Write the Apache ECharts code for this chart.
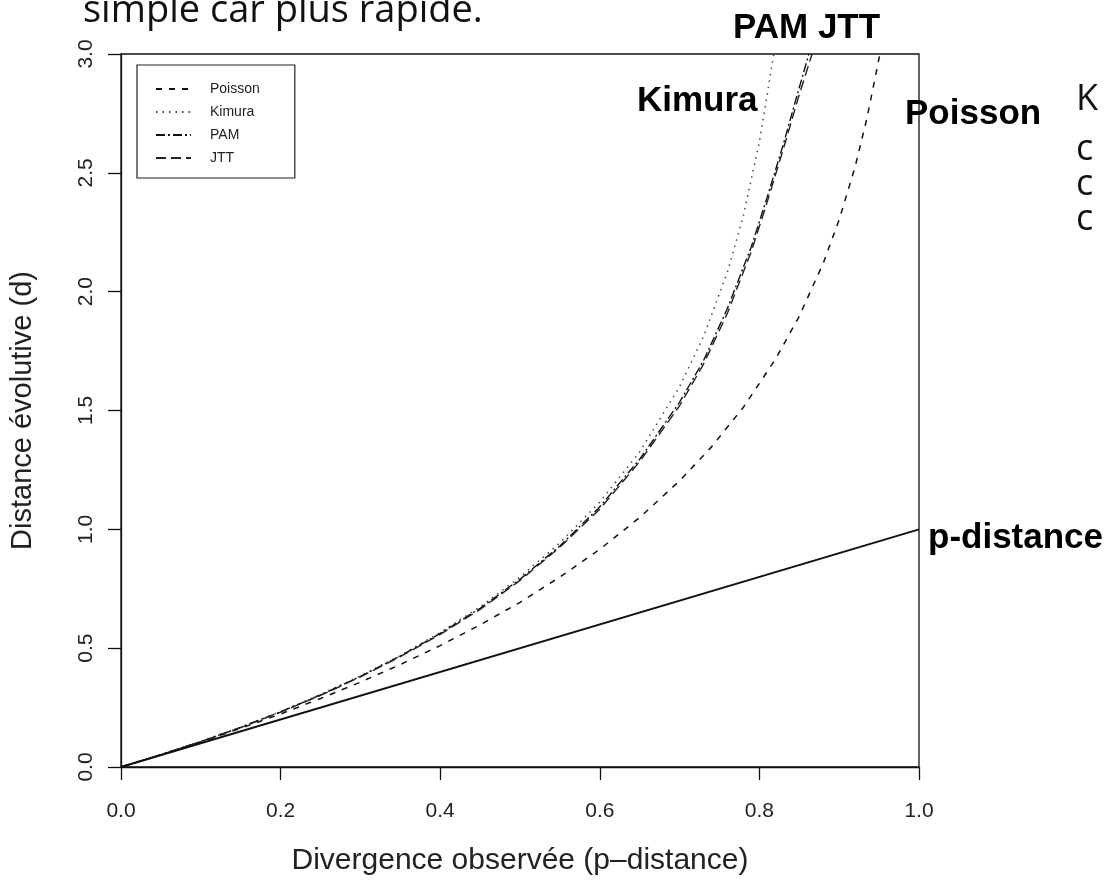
<!DOCTYPE html>
<html>
<head>
<meta charset="utf-8">
<script src="https://cdn.jsdelivr.net/npm/echarts@6/dist/echarts.min.js"></script>
<style>
  html, body { margin: 0; padding: 0; background: #fff; }
  #chart { width: 1117px; height: 881px; }
</style>
</head>
<body>
<div id="chart"></div>
<script>
var poissonP = [0, 0.05, 0.1, 0.15, 0.2, 0.25, 0.3, 0.35, 0.4, 0.45, 0.5, 0.55, 0.6, 0.65, 0.7, 0.74, 0.78, 0.82, 0.85, 0.88, 0.9, 0.92, 0.935, 0.945, 0.951];
var poissonD = [0, 0.051, 0.105, 0.163, 0.223, 0.288, 0.357, 0.431, 0.511, 0.598, 0.693, 0.799, 0.916, 1.05, 1.204, 1.347, 1.514, 1.715, 1.897, 2.12, 2.303, 2.526, 2.733, 2.9, 3.0];

var kimuraP = [0, 0.05, 0.1, 0.15, 0.2, 0.25, 0.3, 0.35, 0.4, 0.45, 0.5, 0.55, 0.6, 0.65, 0.7, 0.73, 0.76, 0.78, 0.8, 0.81, 0.818];
var kimuraD = [0, 0.052, 0.108, 0.168, 0.233, 0.305, 0.383, 0.469, 0.566, 0.674, 0.799, 0.943, 1.115, 1.326, 1.6, 1.811, 2.083, 2.32, 2.631, 2.834, 3.0];

var pamP = [0, 0.05, 0.1, 0.15, 0.2, 0.25, 0.3, 0.35, 0.4, 0.45, 0.5, 0.55, 0.6, 0.65, 0.7, 0.73, 0.76, 0.79, 0.81, 0.83, 0.845, 0.862];
var pamD = [0, 0.052, 0.107, 0.167, 0.232, 0.303, 0.381, 0.467, 0.562, 0.668, 0.79, 0.93, 1.095, 1.295, 1.535, 1.71, 1.93, 2.19, 2.4, 2.62, 2.8, 3.0];

var jttP = [0, 0.05, 0.1, 0.15, 0.2, 0.25, 0.3, 0.35, 0.4, 0.45, 0.5, 0.55, 0.6, 0.65, 0.7, 0.73, 0.76, 0.79, 0.81, 0.83, 0.85, 0.866];
var jttD = [0, 0.052, 0.106, 0.166, 0.231, 0.301, 0.379, 0.464, 0.558, 0.663, 0.785, 0.925, 1.085, 1.285, 1.52, 1.695, 1.91, 2.17, 2.38, 2.6, 2.83, 3.0];

var pdistP = [0, 1];
var pdistD = [0, 1];

var legendNames = ['Poisson', 'Kimura', 'PAM', 'JTT'];

function pairs(xs, ys) {
  return xs.map(function (x, i) { return [x, ys[i]]; });
}

var font = '"Liberation Sans", Arial, Helvetica, sans-serif';
var slideFont = '"Open Sans", "Noto Sans", sans-serif';

function curve(name, xs, ys, type, width, color) {
  return {
    name: name,
    type: 'line',
    data: pairs(xs, ys),
    symbol: 'none',
    showSymbol: false,
    smooth: false,
    silent: true,
    itemStyle: { color: color },
    lineStyle: { color: color, width: width, type: type }
  };
}

var chart = echarts.init(document.getElementById('chart'));

var option = {
  backgroundColor: '#fff',
  animation: false,
  grid: {
    left: 120, right: 198, top: 54, bottom: 113,
    show: true, borderColor: '#111', borderWidth: 1.3
  },
  legend: {
    data: legendNames,
    orient: 'vertical',
    left: 137, top: 65,
    itemWidth: 35, itemHeight: 14, itemGap: 9,
    padding: [17, 35, 13, 18],
    borderColor: '#222', borderWidth: 1.2,
    itemStyle: { opacity: 0 },
    textStyle: { fontFamily: font, fontSize: 14, color: '#222', padding: [0, 0, 0, 14] }
  },
  xAxis: {
    type: 'value', min: 0, max: 1, interval: 0.2,
    name: 'Divergence observée (p\u2013distance)',
    nameLocation: 'middle', nameGap: 79,
    nameTextStyle: { fontFamily: font, fontSize: 30, color: '#222' },
    axisLine: { lineStyle: { color: '#111', width: 1.3 } },
    axisTick: { length: 13, lineStyle: { color: '#111', width: 1.3 } },
    axisLabel: {
      margin: 34, fontFamily: font, fontSize: 21, color: '#222',
      formatter: function (v) { return v.toFixed(1); }
    },
    splitLine: { show: false }
  },
  yAxis: {
    type: 'value', min: 0, max: 3, interval: 0.5,
    name: 'Distance évolutive (d)',
    nameLocation: 'middle', nameGap: 84, nameRotate: 90,
    nameTextStyle: { fontFamily: font, fontSize: 29, color: '#222' },
    axisLine: { lineStyle: { color: '#111', width: 1.3 } },
    axisTick: { length: 13, lineStyle: { color: '#111', width: 1.3 } },
    axisLabel: {
      rotate: 90, margin: 24, fontFamily: font, fontSize: 21, color: '#222',
      formatter: function (v) { return v.toFixed(1); }
    },
    splitLine: { show: false }
  },
  series: [
    curve('Poisson', poissonP, poissonD, [6, 7], 1.5, '#111'),
    curve('Kimura', kimuraP, kimuraD, [1.5, 5], 1.5, '#444'),
    curve('PAM', pamP, pamD, [9, 3, 2, 3], 1.4, '#111'),
    curve('JTT', jttP, jttD, [10, 5], 1.4, '#222'),
    curve('p-distance', pdistP, pdistD, 'solid', 1.9, '#111')
  ],
  graphic: [
    { type: 'text', left: 83, top: -8, silent: true,
      style: { text: 'simple car plus rapide.', fontFamily: slideFont, fontSize: 38, fill: '#111' } },
    { type: 'text', x: 733, y: 28, silent: true,
      style: { text: 'PAM JTT', fontFamily: font, fontWeight: 'bold', fontSize: 35, fill: '#000', verticalAlign: 'middle' } },
    { type: 'text', x: 637, y: 101, silent: true,
      style: { text: 'Kimura', fontFamily: font, fontWeight: 'bold', fontSize: 35, fill: '#000', verticalAlign: 'middle' } },
    { type: 'text', x: 905, y: 114, silent: true,
      style: { text: 'Poisson', fontFamily: font, fontWeight: 'bold', fontSize: 35, fill: '#000', verticalAlign: 'middle' } },
    { type: 'text', x: 928, y: 538, silent: true,
      style: { text: 'p-distance', fontFamily: font, fontWeight: 'bold', fontSize: 35, fill: '#000', verticalAlign: 'middle' } },
    { type: 'text', x: 1076, y: 100, silent: true,
      style: { text: 'K', fontFamily: slideFont, fontSize: 36, fill: '#111', verticalAlign: 'middle' } },
    { type: 'text', x: 1076, y: 150, silent: true,
      style: { text: 'c', fontFamily: slideFont, fontSize: 36, fill: '#111', verticalAlign: 'middle' } },
    { type: 'text', x: 1076, y: 185, silent: true,
      style: { text: 'c', fontFamily: slideFont, fontSize: 36, fill: '#111', verticalAlign: 'middle' } },
    { type: 'text', x: 1076, y: 220, silent: true,
      style: { text: 'c', fontFamily: slideFont, fontSize: 36, fill: '#111', verticalAlign: 'middle' } }
  ]
};

chart.setOption(option);
</script>
</body>
</html>
